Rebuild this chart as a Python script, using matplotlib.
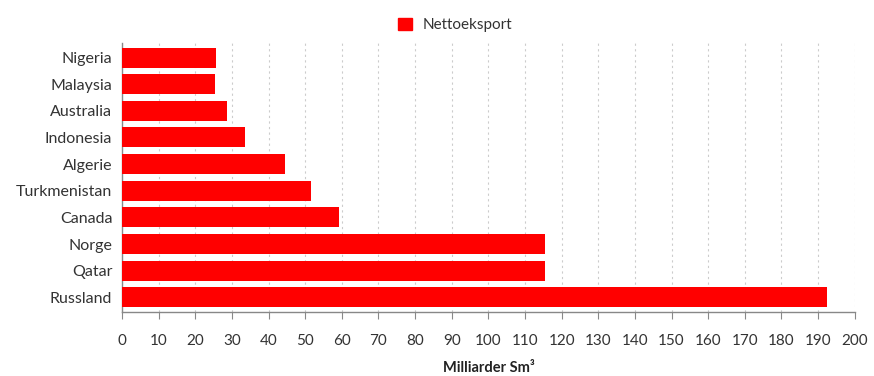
import matplotlib
matplotlib.use("Agg")
import matplotlib.pyplot as plt
from matplotlib.patches import Patch

plt.rcParams['font.family'] = ['Lato', 'DejaVu Sans']

countries = ["Nigeria", "Malaysia", "Australia", "Indonesia", "Algerie",
             "Turkmenistan", "Canada", "Norge", "Qatar", "Russland"]
net_export = [25.6, 25.5, 28.6, 33.6, 44.5, 51.5, 59.3, 115.4, 115.4, 192.5]
x_ticks = list(range(0, 201, 10))

fig = plt.figure(figsize=(8.74, 3.76), dpi=100)
ax = fig.add_axes([0.1396, 0.170, 0.8384, 0.716])

ypos = list(range(len(countries)))
ax.barh(ypos, net_export, height=0.75, color="#ff0000", zorder=3)
ax.set_ylim(len(countries) - 0.45, -0.55)
ax.set_yticks(ypos)
ax.set_yticklabels(countries, fontsize=11.5, color="#333333")
ax.tick_params(axis='y', length=0, pad=7)

ax.set_xlim(0, 200)
ax.set_xticks(x_ticks)
ax.set_xticklabels([str(t) for t in x_ticks], fontsize=11, color="#333333")
ax.tick_params(axis='x', direction='out', length=5, color="#888888", pad=11)
ax.xaxis.grid(True, linestyle=(0, (2, 3)), color="#cccccc", linewidth=0.8, zorder=0)

for s in ["top", "right"]:
    ax.spines[s].set_visible(False)
for s in ["left", "bottom"]:
    ax.spines[s].set_color("#888888")
    ax.spines[s].set_linewidth(1.0)

ax.set_xlabel("Milliarder Sm³", fontsize=10.5, fontweight='bold', color="#222222", labelpad=9)

fig.legend(handles=[Patch(color="#ff0000", label="Nettoeksport")],
           loc='upper center', bbox_to_anchor=(0.521, 0.99), frameon=False,
           fontsize=11, handlelength=0.9, handleheight=0.9, handletextpad=0.7,
           labelcolor="#333333")

fig.savefig("out.png", dpi=100, facecolor="white")
